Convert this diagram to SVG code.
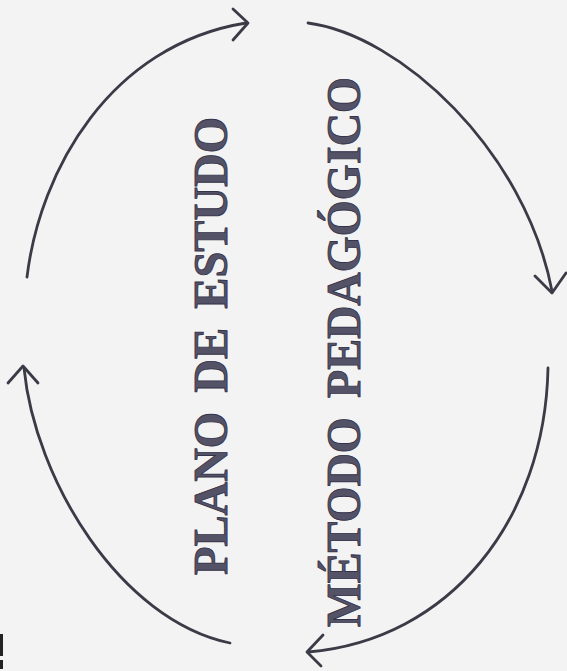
<svg xmlns="http://www.w3.org/2000/svg" width="567" height="671" viewBox="0 0 567 671">
  <style>
    .arc { fill: none; stroke: #3b3a47; stroke-width: 2.8; stroke-linecap: round; stroke-linejoin: round; }
    .label { font-family: "Liberation Serif", "Times New Roman", serif; font-weight: bold; font-size: 49px; fill: #535266; stroke: #34334a; stroke-width: 0.9; word-spacing: 8px; }
  </style>
  <rect x="0" y="0" width="567" height="671" fill="#f3f3f3"/>
  <g id="connectors">
    <path class="arc" d="M27,277 C40,170 110,45 246,23"/>
    <polyline class="arc" points="233,9 248,23 233,40"/>
    <path class="arc" d="M308,23 C400,35 525,150 552,291"/>
    <polyline class="arc" points="535,276 552,293 566,273"/>
    <path class="arc" d="M548,368 C545,520 450,640 308,652"/>
    <polyline class="arc" points="323,635 307,652 321,666"/>
    <path class="arc" d="M230,643 C120,620 35,480 24,368"/>
    <polyline class="arc" points="8,383 23,366 38,383"/>
  </g>
  <g id="plano-de-estudo">
    <text class="label" transform="translate(227,575) rotate(-90)" textLength="458" lengthAdjust="spacingAndGlyphs">PLANO DE ESTUDO</text>
  </g>
  <g id="metodo-pedagogico">
    <text class="label" transform="translate(360,627) rotate(-90)" textLength="550" lengthAdjust="spacingAndGlyphs">MÉTODO PEDAGÓGICO</text>
  </g>
  <rect x="0" y="634" width="3" height="22" fill="#222"/>
  <rect x="0" y="660" width="3" height="9" fill="#222"/>
</svg>
